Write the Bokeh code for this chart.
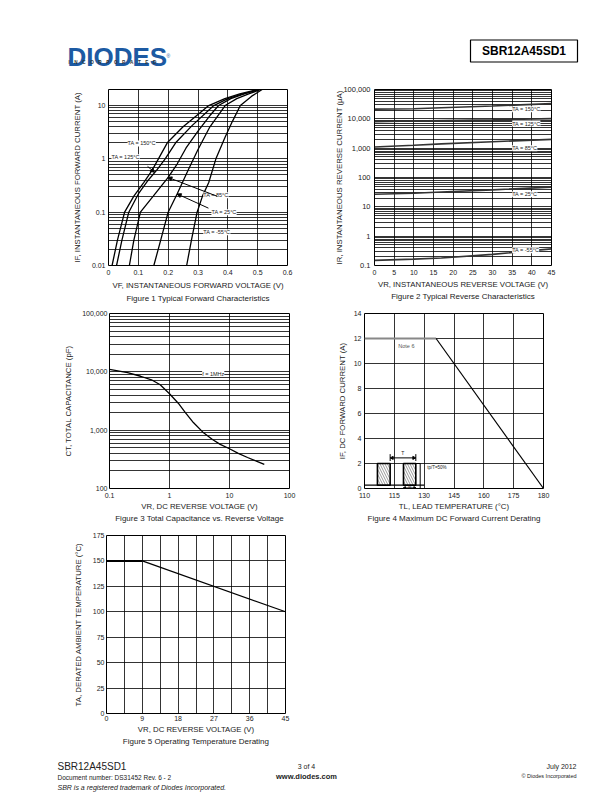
from bokeh.plotting import figure
from bokeh.models import (Range1d, FixedTicker, NumeralTickFormatter, Title, Label,
                          Arrow, NormalHead, Spacer)
from bokeh.layouts import column, row
from bokeh.embed import file_html
from bokeh.resources import INLINE
from bokeh.core.properties import value

FONT = "Liberation Sans"

# ---------------- Figure 1 : forward characteristics ----------------
f1_x_ticks = [0, 0.1, 0.2, 0.3, 0.4, 0.5, 0.6]
f1_y_ticks = [0.01, 0.1, 1, 10]
f1_vf_150 = [0.012, 0.03, 0.054, 0.085, 0.118, 0.146, 0.197, 0.25, 0.308, 0.336, 0.39, 0.44, 0.50]
f1_if_150 = [0.01, 0.03, 0.1, 0.2, 0.36, 0.61, 2.0, 4.0, 7.4, 10, 13.5, 16.5, 20]
f1_vf_125 = [0.027, 0.045, 0.068, 0.10, 0.13, 0.161, 0.19, 0.225, 0.28, 0.353, 0.40, 0.45, 0.505]
f1_if_125 = [0.01, 0.03, 0.1, 0.22, 0.38, 0.61, 1.0, 2.0, 4.2, 10, 13.5, 16.5, 20]
f1_vf_85 = [0.07, 0.085, 0.107, 0.15, 0.2, 0.23, 0.26, 0.3, 0.34, 0.369, 0.41, 0.455, 0.505]
f1_if_85 = [0.01, 0.03, 0.1, 0.2, 0.45, 0.8, 1.6, 3.3, 6.5, 10, 13.5, 16.5, 20]
f1_vf_25 = [0.152, 0.175, 0.2, 0.23, 0.266, 0.3, 0.34, 0.391, 0.43, 0.47, 0.51]
f1_if_25 = [0.01, 0.03, 0.1, 0.22, 0.6, 1.5, 4.0, 10, 13.5, 16.5, 20]
f1_vf_m55 = [0.262, 0.278, 0.297, 0.315, 0.336, 0.36, 0.39, 0.415, 0.442, 0.48, 0.515]
f1_if_m55 = [0.01, 0.03, 0.1, 0.2, 0.36, 1.0, 2.5, 5.0, 10, 15, 20]
f1_labels = ["TA = 150°C", "TA = 125°C", "TA = 85°C", "TA = 25°C", "TA = -55°C"]
f1_label_x = [0.064, 0.010, 0.318, 0.345, 0.318]
f1_label_y = [1.95, 1.07, 0.207, 0.10, 0.042]
f1_arrows = [(0.131, 0.724, 0.154, 0.56), (0.364, 0.199, 0.199, 0.45), (0.335, 0.119, 0.23, 0.22)]

# ---------------- Figure 2 : reverse characteristics ----------------
f2_x_ticks = [0, 5, 10, 15, 20, 25, 30, 35, 40, 45]
f2_y_ticks = [0.1, 1, 10, 100, 1000, 10000, 100000]
f2_vr = [0, 10, 17, 30, 45]
f2_ir_150 = [21500, 22000, 24000, 27500, 33000]
f2_ir_125 = [8000, 8400, 8700, 9300, 10200]
f2_ir_85 = [1100, 1250, 1400, 1650, 2000]
f2_ir_25 = [27, 29, 32, 38, 47]
f2_ir_m55 = [0.15, 0.165, 0.18, 0.24, 0.37]
f2_labels = ["TA = 150°C", "TA = 125°C", "TA = 85°C", "TA = 25°C", "TA = -55°C"]
f2_label_x = [35.0, 35.0, 35.0, 35.0, 35.0]
f2_label_y = [21300, 6900, 1000, 27, 0.33]

# ---------------- Figure 3 : capacitance ----------------
f3_x_ticks = [0.1, 1, 10, 100]
f3_y_ticks = [100, 1000, 10000, 100000]
f3_vr = [0.1, 0.2, 0.33, 0.5, 0.7, 1.0, 1.4, 1.84, 2.5, 3.7, 5.2, 7.0, 10, 14, 20, 28, 38]
f3_ct = [11000, 9700, 8400, 7300, 6000, 4200, 2900, 2000, 1350, 900, 690, 570, 480, 400, 340, 295, 260]

# ---------------- Figure 4 : DC current derating ----------------
f4_x_ticks = [100, 115, 130, 145, 160, 175, 190]
f4_x_labels = {100: "110", 190: "180"}
f4_y_ticks = [0, 2, 4, 6, 8, 10, 12, 14]
f4_tl = [100, 136, 190]
f4_if = [12, 12, 0]
f4_pulse_left = [106.5, 112.9]
f4_pulse_right = [119.6, 125.8]
f4_pulse_low = 0.27
f4_pulse_high = 2.0

# ---------------- Figure 5 : operating temperature derating ----------------
f5_x_ticks = [0, 9, 18, 27, 36, 45]
f5_x_grid = [0, 4.5, 9, 13.5, 18, 22.5, 27, 31.5, 36, 40.5, 45]
f5_y_ticks = [0, 25, 50, 75, 100, 125, 150, 175]
f5_vr = [0, 9, 45]
f5_ta = [150, 150, 100]


def minors(lo, hi):
    return [m * 10.0 ** e for e in range(lo, hi) for m in range(2, 10)]


def chart(w, h, left, right, top, bottom, xr, yr, xt="linear", yt="linear"):
    p = figure(width=w, height=h, x_range=xr, y_range=yr, x_axis_type=xt, y_axis_type=yt,
               output_backend="svg", toolbar_location=None, title=None,
               min_border_left=left, min_border_right=right,
               min_border_top=top, min_border_bottom=bottom)
    p.outline_line_color = "black"
    p.outline_line_width = 1
    for ax in p.axis:
        ax.axis_line_color = None
        ax.major_tick_line_color = None
        ax.minor_tick_line_color = None
        ax.major_tick_out = 0
        ax.major_tick_in = 0
        ax.minor_tick_out = 0
        ax.minor_tick_in = 0
        ax.major_label_text_font = FONT
        ax.major_label_text_font_size = "7px"
        ax.major_label_text_color = "#222222"
        ax.axis_label_text_font = FONT
        ax.axis_label_text_font_size = "7.8px"
        ax.axis_label_text_font_style = "normal"
        ax.axis_label_text_color = "#222222"
        ax.major_label_standoff = 4
        ax.axis_label_standoff = 3
    for g in p.grid:
        g.grid_line_color = "black"
        g.grid_line_width = 0.8
    return p


def caption(p, text, standoff=-3):
    p.add_layout(Title(text=text, align="center", text_font=FONT, text_font_size="8px",
                       text_font_style="normal", text_color="#222222", standoff=standoff), "below")


def tag(p, x, y, text, size="5.5px", color="#222222"):
    p.add_layout(Label(x=x, y=y, text=text, text_font=FONT, text_font_size=size,
                       text_color=color, text_baseline="middle",
                       background_fill_color="white"))


# ---- Figure 1
p1 = chart(306, 225, 108, 19, 7, 39, Range1d(0, 0.6), Range1d(0.01, 20), yt="log")
p1.xaxis.ticker = FixedTicker(ticks=f1_x_ticks)
p1.xaxis.formatter = NumeralTickFormatter(format="0.[0]")
p1.yaxis.ticker = FixedTicker(ticks=f1_y_ticks, minor_ticks=minors(-2, 2))
p1.yaxis.formatter = NumeralTickFormatter(format="0,0.[00]")
p1.ygrid.minor_grid_line_color = "black"
p1.ygrid.minor_grid_line_width = 0.8
p1.yaxis.major_label_standoff = 3
p1.yaxis.axis_label_standoff = 7
p1.xaxis.axis_label = "VF, INSTANTANEOUS FORWARD VOLTAGE (V)"
p1.yaxis.axis_label = "IF, INSTANTANEOUS FORWARD CURRENT (A)"
for vx, iy in [(f1_vf_150, f1_if_150), (f1_vf_125, f1_if_125), (f1_vf_85, f1_if_85),
               (f1_vf_25, f1_if_25), (f1_vf_m55, f1_if_m55)]:
    p1.line(vx, iy, line_color="black", line_width=1.3)
for t, x, y in zip(f1_labels, f1_label_x, f1_label_y):
    tag(p1, x, y, t)
for x0, y0, x1, y1 in f1_arrows:
    p1.add_layout(Arrow(end=NormalHead(size=4, fill_color="black", line_color="black"),
                        x_start=x0, y_start=y0, x_end=x1, y_end=y1,
                        line_color="black", line_width=1))
caption(p1, "Figure 1 Typical Forward Characteristics", -2)

# ---- Figure 2
p2 = chart(306, 225, 68, 61, 9, 40, Range1d(0, 45), Range1d(0.1, 100000), yt="log")
p2.xaxis.ticker = FixedTicker(ticks=f2_x_ticks)
p2.yaxis.ticker = FixedTicker(ticks=f2_y_ticks, minor_ticks=minors(-1, 5))
p2.yaxis.formatter = NumeralTickFormatter(format="0,0.[00]")
p2.ygrid.minor_grid_line_color = "black"
p2.ygrid.minor_grid_line_width = 0.8
p2.yaxis.major_label_text_font_size = "7.5px"
p2.yaxis.axis_label_standoff = -4
p2.xaxis.axis_label_standoff = 2
p2.xaxis.axis_label = "VR, INSTANTANEOUS REVERSE VOLTAGE (V)"
p2.yaxis.axis_label = "IR, INSTANTANEOUS REVERSE CURRENT (µA)"
for ir in [f2_ir_150, f2_ir_125, f2_ir_85, f2_ir_25, f2_ir_m55]:
    p2.line(f2_vr, ir, line_color="#333333", line_width=1.6)
for t, x, y in zip(f2_labels, f2_label_x, f2_label_y):
    tag(p2, x, y, t)
caption(p2, "Figure 2 Typical Reverse Characteristics", -3)

# ---- Figure 3
p3 = chart(306, 220, 109, 17, 6, 37, Range1d(0.1, 100), Range1d(100, 100000), xt="log", yt="log")
p3.xaxis.ticker = FixedTicker(ticks=f3_x_ticks)
p3.xaxis.formatter = NumeralTickFormatter(format="0,0.[00]")
p3.yaxis.ticker = FixedTicker(ticks=f3_y_ticks, minor_ticks=minors(2, 5))
p3.yaxis.formatter = NumeralTickFormatter(format="0,0")
p3.ygrid.minor_grid_line_color = "black"
p3.ygrid.minor_grid_line_width = 0.8
p3.yaxis.major_label_standoff = 2
p3.yaxis.axis_label_standoff = 6
p3.xaxis.axis_label_standoff = 1
p3.xaxis.axis_label = "VR, DC REVERSE VOLTAGE (V)"
p3.yaxis.axis_label = "CT, TOTAL CAPACITANCE (pF)"
p3.line(f3_vr, f3_ct, line_color="black", line_width=1.3)
tag(p3, 3.5, 9300, "f = 1MHz")
caption(p3, "Figure 3 Total Capacitance vs. Reverse Voltage", -3)

# ---- Figure 4
p4 = chart(306, 220, 58, 69, 8, 37, Range1d(100, 190), Range1d(0, 14))
p4.xaxis.ticker = FixedTicker(ticks=f4_x_ticks)
p4.xaxis.major_label_overrides = f4_x_labels
p4.yaxis.ticker = FixedTicker(ticks=f4_y_ticks)
p4.yaxis.major_label_standoff = 3
p4.yaxis.axis_label_standoff = 4
p4.xaxis.axis_label_standoff = 1
p4.xaxis.axis_label = "TL, LEAD TEMPERATURE (°C)"
p4.yaxis.axis_label = "IF, DC FORWARD CURRENT (A)"
p4.line(f4_tl[:2], f4_if[:2], line_color="#888888", line_width=1.8)
p4.line(f4_tl[1:], f4_if[1:], line_color="black", line_width=1.2)
p4.line([100, 130], [f4_pulse_low, f4_pulse_low], line_color="black", line_width=1.2)
p4.quad(left=[f4_pulse_left[0], f4_pulse_right[0]], right=[f4_pulse_left[1], f4_pulse_right[1]],
        bottom=[f4_pulse_low, f4_pulse_low], top=[f4_pulse_high, f4_pulse_high],
        fill_color="white", line_color="black", line_width=1.6,
        hatch_pattern="\\", hatch_color="#333333", hatch_scale=5, hatch_weight=0.5)
p4.line([f4_pulse_right[1], 128, 128], [f4_pulse_high, f4_pulse_high, 0], line_color="black", line_width=1)
p4.segment(x0=[f4_pulse_left[1], f4_pulse_right[1]], y0=[2.2, 2.2],
           x1=[f4_pulse_left[1], f4_pulse_right[1]], y1=[2.75, 2.75], line_color="black", line_width=1)
p4.add_layout(Arrow(start=NormalHead(size=3, fill_color="black"), end=NormalHead(size=3, fill_color="black"),
                    x_start=f4_pulse_left[1], y_start=2.45, x_end=f4_pulse_right[1], y_end=2.45,
                    line_color="black", line_width=1))
p4.add_layout(Arrow(start=NormalHead(size=2, fill_color="black"), end=NormalHead(size=2, fill_color="black"),
                    x_start=f4_pulse_right[0], y_start=0.07, x_end=f4_pulse_right[1], y_end=0.07,
                    line_color="black", line_width=0.6))
p4.text(x=[119.2], y=[2.6], text=["T"], text_font=value(FONT), text_font_size="5px",
        text_align="center", text_baseline="bottom", text_color="#222222")
p4.text(x=[122.7], y=[0.1], text=["tp"], text_font=value(FONT), text_font_size="3.5px",
        text_align="center", text_baseline="middle", text_color="#222222")
p4.text(x=[131.5], y=[1.7], text=["tp/T=50%"], text_font=value(FONT), text_font_size="4.5px",
        text_align="left", text_baseline="middle", text_color="#222222")
p4.text(x=[117], y=[11.4], text=["Note 6"], text_font=value(FONT), text_font_size="5.5px",
        text_align="left", text_baseline="middle", text_color="#555555")
caption(p4, "Figure 4 Maximum DC Forward Current Derating", -3)

# ---- Figure 5
p5 = chart(306, 225, 106, 21, 10, 37, Range1d(0, 45), Range1d(0, 175))
p5.xaxis.ticker = FixedTicker(ticks=f5_x_ticks)
p5.xgrid.ticker = FixedTicker(ticks=f5_x_grid)
p5.yaxis.ticker = FixedTicker(ticks=f5_y_ticks)
p5.yaxis.major_label_standoff = 2
p5.yaxis.axis_label_standoff = 7
p5.xaxis.major_label_standoff = 2
p5.xaxis.axis_label_standoff = 1
p5.xaxis.axis_label = "VR, DC REVERSE VOLTAGE (V)"
p5.yaxis.axis_label = "TA, DERATED AMBIENT TEMPERATURE (°C)"
p5.line(f5_vr[:2], f5_ta[:2], line_color="black", line_width=2)
p5.line(f5_vr[1:], f5_ta[1:], line_color="black", line_width=1.2)
caption(p5, "Figure 5 Operating Temperature Derating", -4)


def blank(w, h, x0, x1, y0, y1):
    p = figure(width=w, height=h, x_range=Range1d(x0, x1), y_range=Range1d(y1, y0),
               output_backend="svg", toolbar_location=None, title=None, min_border=0,
               x_axis_location=None, y_axis_location=None)
    p.outline_line_color = None
    p.grid.visible = False
    return p


# ---- Header (page coordinates)
hdr = blank(612, 80, 0, 612, 0, 80)
hdr.text(x=[67], y=[56.5], text=["DIODES"], text_font=value(FONT), text_font_size="26px",
         text_font_style="bold", text_color="#1c5aa3", text_baseline="alphabetic")
hdr.text(x=[68], y=[61.5], text=["I\u2003N\u2003C\u2003O\u2003R\u2003P\u2003O\u2003R\u2003A\u2003T\u2003E\u2003D"],
         text_font=value(FONT), text_font_size="4.6px", text_font_style="bold",
         text_color="#333333", text_baseline="middle")
hdr.text(x=[166], y=[55.5], text=["®"], text_font=value(FONT), text_font_size="5px",
         text_color="#1c5aa3", text_baseline="middle")
hdr.quad(left=[470], right=[577], top=[39.5], bottom=[61.5], fill_color=None,
         line_color="black", line_width=1.2)
hdr.text(x=[523.5], y=[50.8], text=["SBR12A45SD1"], text_font=value(FONT), text_font_size="12px",
         text_font_style="bold", text_align="center", text_baseline="middle", text_color="black")

# ---- Footer (page coordinates)
ftr = blank(612, 42, 0, 612, 750, 792)
ftr.text(x=[57], y=[766], text=["SBR12A45SD1"], text_font=value(FONT), text_font_size="10px",
         text_baseline="middle", text_color="#222222")
ftr.text(x=[57], y=[777], text=["Document number: DS31452 Rev. 6 - 2"], text_font=value(FONT),
         text_font_size="6.5px", text_baseline="middle", text_color="#222222")
ftr.text(x=[57], y=[787], text=["SBR is a registered trademark of Diodes Incorporated."],
         text_font=value(FONT), text_font_size="7px", text_font_style="italic",
         text_baseline="middle", text_color="#222222")
ftr.text(x=[306], y=[766], text=["3 of 4"], text_font=value(FONT), text_font_size="7px",
         text_align="center", text_baseline="middle", text_color="#222222")
ftr.text(x=[306], y=[776], text=["www.diodes.com"], text_font=value(FONT), text_font_size="7.5px",
         text_font_style="bold", text_align="center", text_baseline="middle", text_color="#222222")
ftr.text(x=[576], y=[766], text=["July 2012"], text_font=value(FONT), text_font_size="7px",
         text_align="right", text_baseline="middle", text_color="#222222")
ftr.text(x=[576], y=[775], text=["© Diodes Incorporated"], text_font=value(FONT), text_font_size="5.5px",
         text_align="right", text_baseline="middle", text_color="#222222")

layout = column(hdr, row(p1, p2), row(p3, p4), row(p5, Spacer(width=306, height=225)), ftr)
open("out.html", "w").write(file_html(layout, INLINE))
